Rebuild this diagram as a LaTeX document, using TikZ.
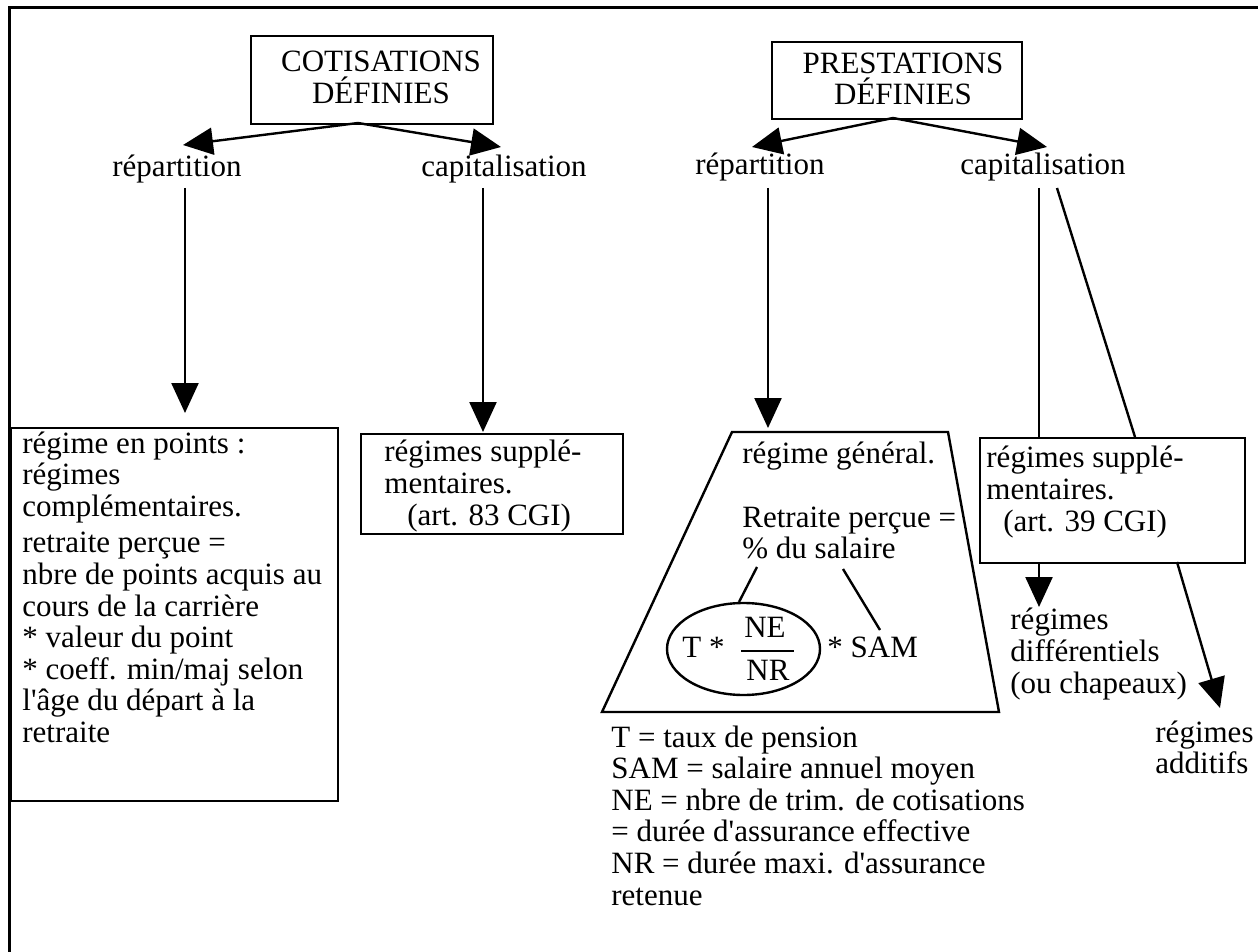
\documentclass[tikz,border=0pt]{standalone}
\usepackage{fontspec}
\setmainfont{Liberation Serif}[Ligatures=TeXOff]
\usetikzlibrary{arrows.meta,shapes.geometric}
\newcommand\fs{\fontsize{15.5pt}{15.8pt}\selectfont}
\begin{document}
\begin{tikzpicture}[x=0.5pt,y=-0.5pt,
  box/.style={draw, line width=1.2pt, inner sep=0pt, anchor=north west},
  txt/.style={inner sep=0pt, anchor=base west, align=left, font=\fs},
  ctxt/.style={inner sep=0pt, anchor=base, align=center, font=\fs},
  conn/.style={line width=1.2pt},
  arr/.style={conn, -{Triangle[length=15pt,width=13.5pt]}},
  frame/.style={line width=1.5pt}]
\useasboundingbox (0,0) rectangle (1258,952);
\fill[white] (0,0) rectangle (1258,952);
% frame
\draw[frame] (1258,7.5) -- (9.5,7.5) -- (9.5,952);

% top boxes (multi-line texts: anchor = baseline of last line)
\node[box, minimum width=121pt, minimum height=44pt] (cotis) at (250,35) {};
\node[ctxt] (cotistxt) at (381,103.6) {COTISATIONS\\DÉFINIES};
\node[box, minimum width=125pt, minimum height=38.5pt] (prest) at (771,41) {};
\node[ctxt] (presttxt) at (903,105) {PRESTATIONS\\DÉFINIES};

% labels
\node[txt] (repL) at (112,177) {répartition};
\node[txt] (capL) at (421,177) {capitalisation};
\node[txt] (repR) at (695,175) {répartition};
\node[txt] (capR) at (960,175) {capitalisation};

% arrows from top boxes
\coordinate (cotisO) at (358,123);
\coordinate (prestO) at (893,118);
\coordinate (repLtip) at (183,145);
\coordinate (capLtip) at (501,147);
\coordinate (repRtip) at (752,147);
\coordinate (capRtip) at (1047,147);
\draw[arr] (cotisO) -- (repLtip);
\draw[arr] (cotisO) -- (capLtip);
\draw[arr] (prestO) -- (repRtip);
\draw[arr] (prestO) -- (capRtip);

% lower boxes
\node[box, minimum width=163.75pt, minimum height=186.5pt] (points) at (9.5,427) {};
\node[txt] (pointstxt) at (22,742.5) {régime en points :\\régimes\\complémentaires.\\[2.5pt]retraite perçue =\\nbre de points acquis au\\cours de la carrière\\* valeur du point\\* coeff. min/maj selon\\l'âge du départ à la\\retraite};
\node[box, minimum width=131pt, minimum height=50pt] (b83) at (360,433) {};
\node[txt] (b83txt) at (384,525) {régimes supplé-\\mentaires.\\\hspace*{11.5pt}(art. 83 CGI)};
\node[box, minimum width=132.5pt, minimum height=62.5pt] (b39) at (979,437) {};
\node[txt] (b39txt) at (986,531) {régimes supplé-\\mentaires.\\\hspace*{8.5pt}(art. 39 CGI)};

% trapezoid
\coordinate (tz1) at (732,432);
\coordinate (tz2) at (948,432);
\coordinate (tz3) at (999,712);
\coordinate (tz4) at (602,712);
\draw[conn, line join=miter] (tz1) -- (tz2) -- (tz3) -- (tz4) -- cycle;
\node[txt] (rgtxt) at (742,463) {régime général.};
\node[txt] (rptxt) at (742,558.6) {Retraite perçue =\\\% du salaire};

% vertical arrows
\coordinate (v1a) at (185,188); \coordinate (v1b) at (185,413);
\coordinate (v2a) at (483,188); \coordinate (v2b) at (483,432);
\coordinate (v3a) at (768,188); \coordinate (v3b) at (768,428);
\draw[arr] (v1a) -- (v1b);
\draw[arr] (v2a) -- (v2b);
\draw[arr] (v3a) -- (v3b);

% capitalisation right lines
\coordinate (c1a) at (1039,188); \coordinate (c1b) at (1039,437);
\coordinate (c2a) at (1057,188); \coordinate (c2b) at (1135,437);
\draw[conn] (c1a) -- (c1b);
\draw[conn] (c2a) -- (c2b);
\coordinate (d1a) at (1039,562); \coordinate (d1b) at (1039,607);
\coordinate (d2a) at (1177,562); \coordinate (d2b) at (1220,708);
\draw[arr] (d1a) -- (d1b);
\draw[arr] (d2a) -- (d2b);
\node[txt] (diff) at (1010,693) {régimes\\différentiels\\(ou chapeaux)};
\node[txt] (addit) at (1155,773.6) {régimes\\additifs};

% formula
\node[draw, ellipse, line width=1.2pt, minimum width=76.5pt, minimum height=46pt, inner sep=0pt] (ell) at (743.5,649) {};
\node[txt] (tstar) at (682,657) {T *};
\node[ctxt] (ne) at (765,637) {NE};
\node[ctxt] (nr) at (768,680) {NR};
\coordinate (bar1) at (741,651); \coordinate (bar2) at (794,651);
\draw[line width=0.9pt] (bar1) -- (bar2);
\node[txt] (sam) at (827,657) {* SAM};
\coordinate (l1a) at (757,567); \coordinate (l1b) at (739,602);
\coordinate (l2a) at (843,569); \coordinate (l2b) at (880,630);
\draw[conn] (l1a) -- (l1b);
\draw[conn] (l2a) -- (l2b);

% legend
\node[txt] (legend) at (611,905) {T = taux de pension\\SAM = salaire annuel moyen\\NE = nbre de trim. de cotisations\\= durée d'assurance effective\\NR = durée maxi. d'assurance\\retenue};
\end{tikzpicture}
\end{document}
